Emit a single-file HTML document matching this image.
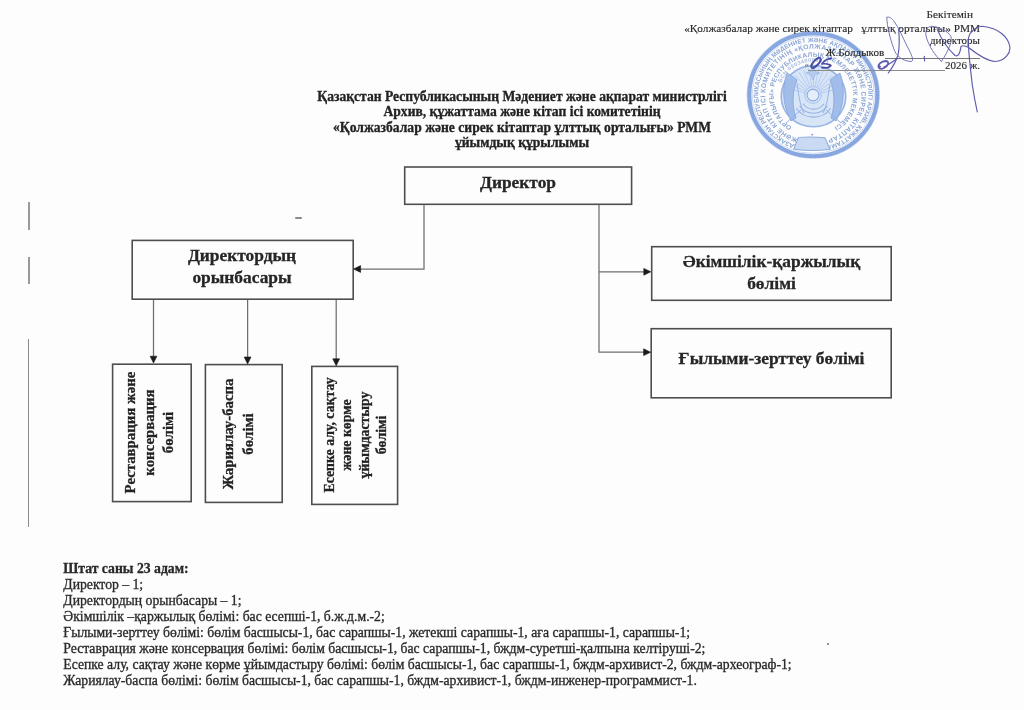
<!DOCTYPE html>
<html><head><meta charset="utf-8">
<style>
html,body{margin:0;padding:0;}
body{width:1024px;height:710px;position:relative;overflow:hidden;background:#fdfdfd;font-family:"Liberation Serif",serif;color:#262626;}
.t{position:absolute;white-space:pre;line-height:1;}
#pg{position:absolute;left:0;top:0;width:1024px;height:710px;filter:blur(0.35px);}
.t,.title,.body,.rot{-webkit-text-stroke:0.3px #262626;}
.b{font-weight:bold;}
.box{position:absolute;box-sizing:border-box;border:1.4px solid #4a4a4a;}
.vl{position:absolute;background:#5a5a5a;width:1.2px;}
.hl{position:absolute;background:#5a5a5a;height:1.2px;}
svg{position:absolute;left:0;top:0;}
.title{position:absolute;left:0;width:1044px;text-align:center;font-weight:bold;font-size:13.6px;line-height:1;white-space:pre;color:#222;}
.body{position:absolute;left:63.3px;font-size:13.7px;line-height:1;white-space:pre;color:#2a2a2a;}
.rot{position:absolute;transform-origin:0 0;transform:rotate(-90deg);font-weight:bold;text-align:center;white-space:pre;color:#222;}
</style></head><body><div id="pg">

<!-- specks -->
<div style="position:absolute;left:295px;top:216.5px;width:7px;height:2px;background:#8a8a8a;border-radius:1px"></div>
<div style="position:absolute;left:826.5px;top:643.3px;width:2px;height:2px;background:#707070;border-radius:1px"></div>
<div style="position:absolute;left:800px;top:28px;width:2px;height:2px;background:#9fb2d6;border-radius:1px"></div>
<!-- margin marks -->
<div style="position:absolute;left:28px;top:202px;width:1.6px;height:28px;background:#9a9a9a"></div>
<div style="position:absolute;left:28px;top:257px;width:1.6px;height:27px;background:#9a9a9a"></div>
<div style="position:absolute;left:28px;top:339px;width:1.3px;height:188px;background:#8a8a8a"></div>


<!-- stamp -->
<svg width="1024" height="710" viewBox="0 0 1024 710" style="mix-blend-mode:multiply">
 <defs>
  <path id="r1" d="M 813.0 149.10 A 54.3 54.3 0 0 1 813.0 40.50 A 54.3 54.3 0 0 1 813.0 149.10"/>
  <path id="r2" d="M 813.0 142.30 A 47.5 47.5 0 0 1 813.0 47.30 A 47.5 47.5 0 0 1 813.0 142.30"/>
  <path id="r3" d="M 813.0 134.00 A 39.2 39.2 0 0 1 813.0 55.60 A 39.2 39.2 0 0 1 813.0 134.00"/>
  <path id="r4" d="M 813.0 128.80 A 34.0 34.0 0 0 1 813.0 60.80 A 34.0 34.0 0 0 1 813.0 128.80"/>
 </defs>
 <g transform="translate(813.3 94.8) scale(1.013 0.972) translate(-813.0 -94.8)">
 <g fill="none">
  <circle cx="813.0" cy="94.8" r="65.6" stroke="#cddcf3" stroke-width="0.8"/>
  <circle cx="813.0" cy="94.8" r="63.2" stroke="#8eace2" stroke-width="4.2"/>
  <circle cx="813.0" cy="94.8" r="63.2" stroke="#7597da" stroke-width="3" stroke-dasharray="1.4 1.2" opacity="0.45"/>
  <circle cx="813.0" cy="94.8" r="60.3" stroke="#b8cbec" stroke-width="0.7"/>
 </g>
 <g fill="#8ba6d6" font-family="Liberation Sans" font-weight="bold">
  <text font-size="6.4" letter-spacing="0"><textPath href="#r1" startOffset="15">ҚАЗАҚСТАН РЕСПУБЛИКАСЫНЫҢ МӘДЕНИЕТ ЖӘНЕ АҚПАРАТ МИНИСТРЛІГІ АРХИВ, ҚҰЖАТТАМА</textPath></text>
  <text font-size="6.8" letter-spacing="0.46"><textPath href="#r2" startOffset="15">ЖӘНЕ КІТАП ІСІ КОМИТЕТІНІҢ «ҚОЛЖАЗБАЛАР ЖӘНЕ СИРЕК КІТАПТАР</textPath></text>
  <text font-size="6.6" letter-spacing="0.27"><textPath href="#r3" startOffset="22">ОРТАЛЫҒЫ» РЕСПУБЛИКАЛЫҚ МЕМЛЕКЕТТІК МЕКЕМЕСІ</textPath></text>
 </g>
 <g fill="#a3b9df" font-family="Liberation Sans" font-size="5.5" font-weight="bold">
  <text letter-spacing="0.4"><textPath href="#r4" startOffset="66">БСН 050340004811</textPath></text>
 </g>
 <!-- bottom ribbon -->
 <path d="M798.5 138.6 Q 811.5 137.8 824.5 139 L 829.5 150.8 Q 811.5 153.5 793.7 150.5 Z" fill="#c9daf2" stroke="#8fade0" stroke-width="1"/>
 <circle cx="812" cy="135.8" r="1" fill="#8ea2c6"/>
 </g>
 <!-- emblem -->
 <ellipse cx="813.5" cy="96.2" rx="32.3" ry="30.6" fill="#d8e5f7" stroke="#9ab6e7" stroke-width="1.6"/>
 <g stroke="#abc3ec" stroke-width="0.75" fill="none">
  <path d="M805.3 93.0 L787.4 88.2 M805.8 91.5 L789.2 83.5 M806.7 90.2 L791.8 79.2 M807.7 89.0 L795.1 75.4 M809.0 88.0 L799.1 72.3 M810.4 87.3 L803.6 70.1 M811.9 86.8 L808.5 68.7 M813.5 86.7 L813.5 68.2 M815.1 86.8 L818.5 68.7 M816.6 87.3 L823.4 70.1 M818.0 88.0 L827.9 72.3 M819.3 89.0 L831.9 75.4 M820.3 90.2 L835.2 79.2 M821.2 91.5 L837.8 83.5 M821.7 93.0 L839.6 88.2"/>
 </g>
 <g stroke="#93b1e5" stroke-width="1.1" fill="none">
  <path d="M824.1 103.7 A13 13 0 0 1 802.9 103.7 M827.4 106.0 A17 17 0 0 1 799.6 106.0 M830.7 108.2 A21 21 0 0 1 796.3 108.2"/>
 </g>
 <g fill="#a2bdea" stroke="#7b9edd" stroke-width="0.7">
  <path d="M787 73 C 782 86, 782 104, 791 121 L 796 118 C 792 106, 792 92, 797 80 C 794 77, 790 75, 787 73 Z"/>
  <path d="M840 73 C 845 86, 845 104, 836 121 L 831 118 C 835 106, 835 92, 830 80 C 833 77, 837 75, 840 73 Z"/>
 </g>
 <g stroke="#8dade3" stroke-width="0.9" fill="none">
  <path d="M797 84 C 799 96, 800 106, 804 113 M 830 84 C 828 96, 827 106, 823 113"/>
  <path d="M786 123 L 801 110 M 841 123 L 826 110"/>
 </g>
 <circle cx="813" cy="95" r="8.3" fill="none" stroke="#b0c7ee" stroke-width="1.2"/>
 <circle cx="813" cy="95" r="5.9" fill="#e4eefa" stroke="#88a9e2" stroke-width="1.1"/>
 <path d="M813 66.5 L 815.2 71.5 L 820 73 L 815.2 74.8 L 813 80 L 810.8 74.8 L 806 73 L 810.8 71.5 Z" fill="#b6cbef" stroke="#8eaee4" stroke-width="0.6"/>
</svg>

<!-- top right approval text -->
<div class="t" style="right:51px;top:9.3px;font-size:11.3px;-webkit-text-stroke:0.12px #262626">Бекітемін</div>
<div class="t" style="right:44px;top:22.5px;font-size:11.3px;-webkit-text-stroke:0.12px #262626">«Қолжазбалар және сирек кітаптар   ұлттық орталығы» РММ</div>
<div class="t" style="right:44px;top:34.5px;font-size:11px;-webkit-text-stroke:0.12px #262626">директоры</div>
<div class="t" style="left:825.5px;top:47px;font-size:11.1px;-webkit-text-stroke:0.12px #262626">Ж.Болдыков</div>
<div class="hl" style="left:885px;top:58px;width:95px;height:1px;background:#777"></div>
<div class="t" style="left:804.5px;top:60px;font-size:9px;color:#666;-webkit-text-stroke:0">«</div>
<div class="t" style="left:827.5px;top:59.5px;font-size:9px;color:#666;-webkit-text-stroke:0">»</div>
<div class="hl" style="left:808px;top:70.3px;width:137px;height:1px;background:#8a8a8a"></div>
<div class="t" style="right:44px;top:59.5px;font-size:11px;-webkit-text-stroke:0.12px #262626">2026 ж.</div>

<!-- signature -->
<svg width="1024" height="710" viewBox="0 0 1024 710">
 <g fill="none" stroke="#4f4ea6" stroke-width="1.15" stroke-linecap="round" stroke-linejoin="round" opacity="0.92">
  <!-- 05 -->
  <ellipse cx="816" cy="62.8" rx="6.3" ry="2.5" transform="rotate(-47 816 62.8)" stroke="#3f3f9c" stroke-width="2"/>
  <path d="M831.5 58.4 C 829.5 58.8, 828 59.3, 826.5 59.8 C 824.5 61, 822.5 62.5, 821.8 64 C 825 63.4, 829.5 64, 830.8 65.6 C 829.5 67.6, 825.5 68.2, 822 67.6" stroke="#3f3f9c" stroke-width="1.7"/>
  <!-- o -->
  <path d="M879 68 C 877 65, 881 61, 886 61 C 890 61.5, 888 66, 884 68 C 881 69.5, 878.5 69, 880 66.5" stroke-width="1.8"/>
  <!-- stroke up -->
  <path d="M888.3 73 C 892 68, 896 62, 898 55 C 899.5 48, 899.5 38, 898.6 28.5 L 901.5 27.7"/>
  <!-- tall loop -->
  <path d="M886.8 17.4 C 887 26, 890 38, 893.5 48 C 896 56, 902 61, 911.4 61.5 C 914 60.5, 912 55, 907 46 C 903 38, 899 28, 893.7 20.8 C 891 17.5, 888 16, 886.8 17.4" stroke="#6b6ab3" stroke-width="1"/>
  <path d="M884 67 C 889 64, 893 62, 897.6 58.3"/>
  <!-- tick -->
  <path d="M924.3 56.3 L 924.6 61"/>
  <!-- left loop of second part -->
  <path d="M941.4 61.5 C 935 55, 929 47, 926 36 C 925 30, 928 26, 932 26.3 C 938 26.5, 948 31, 951 36.5 C 952 42, 949 50, 941.4 61.5" stroke="#6b6ab3" stroke-width="1"/>
  <!-- main stroke -->
  <path d="M937.1 29.1 C 940 36, 947 48, 955 55.5 C 958 57, 960 54, 961 46.5 C 963 45, 966 46, 968.5 47.5 C 973 51, 985 61, 995 61.5 C 1005 61, 1011 53, 1009.7 46 C 1008 38, 1000 28, 982.2 26.3 C 976 26.5, 970 31, 968.5 38 C 967.5 45, 969.5 60, 972.3 85 C 974 96, 976 106, 977.3 112"/>
 </g>
</svg>

<!-- title -->
<div class="title" style="top:90px">Қазақстан Республикасының Мәдениет және ақпарат министрлігі</div>
<div class="title" style="top:105.3px">Архив, құжаттама және кітап ісі комитетінің</div>
<div class="title" style="top:121px">«Қолжазбалар және сирек кітаптар ұлттық орталығы» РММ</div>
<div class="title" style="top:136.3px">ұйымдық құрылымы</div>

<!-- boxes -->
<svg width="1024" height="710" viewBox="0 0 1024 710">
 <g fill="none" stroke="#4e4e4e" stroke-width="1.6">
  <rect x="404.7" y="167.0" width="226.9" height="37.3"/>
  <rect x="132.2" y="240.4" width="221.0" height="58.8"/>
  <rect x="651.7" y="246.7" width="239.5" height="53.6"/>
  <rect x="651.2" y="328.7" width="240.0" height="69.1"/>
  <rect x="112.6" y="364.2" width="78.6" height="137.4"/>
  <rect x="205.4" y="364.6" width="76.8" height="137.8"/>
  <rect x="311.8" y="366.4" width="85.8" height="138.0"/>
 </g>
</svg>
<div class="t b" style="left:404px;width:228px;text-align:center;top:174px;font-size:17.4px">Директор</div>

<div class="t b" style="left:131px;width:222px;text-align:center;top:243.9px;font-size:17.4px;line-height:22.3px">Директордың
орынбасары</div>

<div class="t b" style="left:651px;width:241px;text-align:center;top:251.4px;font-size:17.4px;line-height:21.3px">Әкімшілік-қаржылық
бөлімі</div>

<div class="t b" style="left:651px;width:241px;text-align:center;top:350px;font-size:17.4px">Ғылыми-зерттеу бөлімі</div>

<div class="rot" style="left:121.3px;top:501px;width:137px;font-size:14.8px;line-height:19px">Реставрация және
консервация
бөлімі</div>

<div class="rot" style="left:218.3px;top:503px;width:138px;font-size:14.8px;line-height:20px">Жариялау-баспа
бөлімі</div>

<div class="rot" style="left:320.8px;top:504px;width:138px;font-size:13.8px;line-height:17.3px">Есепке алу, сақтау
және көрме
ұйымдастыру
бөлімі</div>

<!-- connectors -->
<svg width="1024" height="710" viewBox="0 0 1024 710">
 <g stroke="#6e6e6e" stroke-width="1.25" fill="none">
  <polyline points="424,205 424,269.1 359,269.1"/>
  <polyline points="599,205 599,352.2 645,352.2"/>
  <line x1="599" y1="271.8" x2="645" y2="271.8"/>
  <line x1="153.5" y1="300" x2="153.5" y2="357"/>
  <line x1="247.6" y1="300" x2="247.6" y2="357"/>
  <line x1="336.2" y1="300" x2="336.2" y2="359"/>
 </g>
 <g fill="#1a1a1a" stroke="#1a1a1a" stroke-width="0.6" stroke-linejoin="round">
  <polygon points="353.6,269 360.6,265.6 360.6,272.4"/>
  <polygon points="650.8,271.8 643.8,268.4 643.8,275.2"/>
  <polygon points="650.6,352.2 643.6,348.8 643.6,355.6"/>
  <polygon points="153.5,363 150.1,356.2 156.9,356.2"/>
  <polygon points="247.6,364 244.2,357 251,357"/>
  <polygon points="336.2,365.8 332.8,358.8 339.6,358.8"/>
 </g>
</svg>

<!-- staff text -->
<div class="body b" style="top:562px">Штат саны 23 адам:</div>
<div class="body" style="top:578px">Директор – 1;</div>
<div class="body" style="top:594px">Директордың орынбасары – 1;</div>
<div class="body" style="top:610px">Әкімшілік –қаржылық бөлімі: бас есепші-1, б.ж.д.м.-2;</div>
<div class="body" style="top:626px">Ғылыми-зерттеу бөлімі: бөлім басшысы-1, бас сарапшы-1, жетекші сарапшы-1, аға сарапшы-1, сарапшы-1;</div>
<div class="body" style="top:642px">Реставрация және консервация бөлімі: бөлім басшысы-1, бас сарапшы-1, бждм-суретші-қалпына келтіруші-2;</div>
<div class="body" style="top:658px">Есепке алу, сақтау және көрме ұйымдастыру бөлімі: бөлім басшысы-1, бас сарапшы-1, бждм-архивист-2, бждм-археограф-1;</div>
<div class="body" style="top:674px">Жариялау-баспа бөлімі: бөлім басшысы-1, бас сарапшы-1, бждм-архивист-1, бждм-инженер-программист-1.</div>

</div></body></html>
